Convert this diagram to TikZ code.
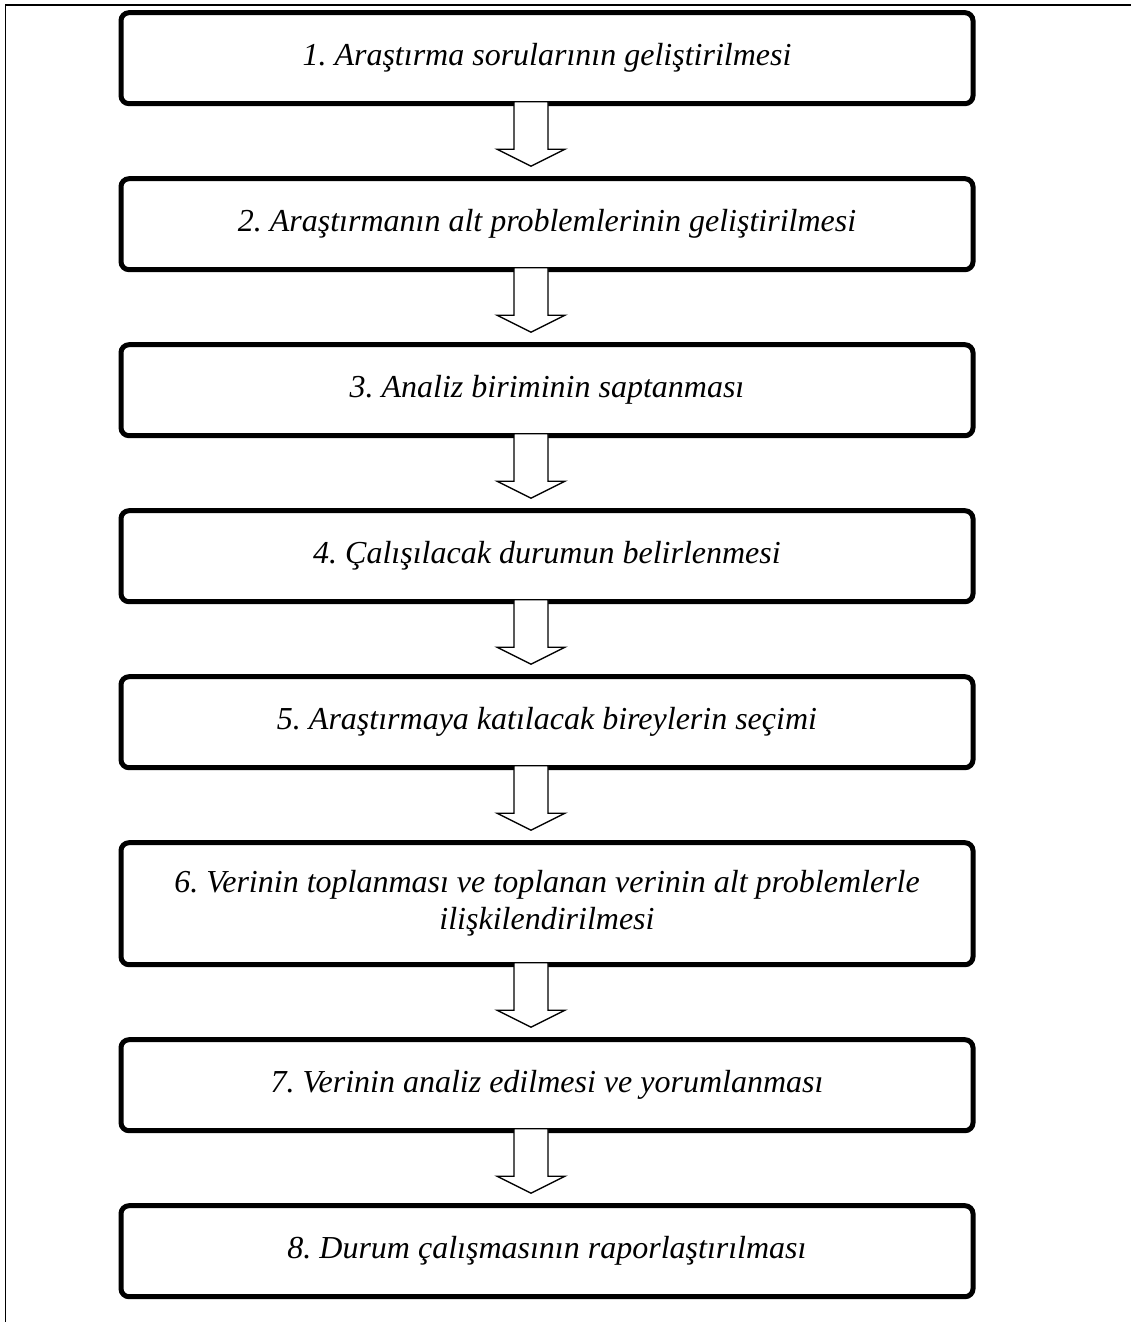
\documentclass[tikz,border=0pt]{standalone}
\usepackage{fontspec}
\setmainfont{Liberation Serif}
\usepackage{tikz}
\usetikzlibrary{positioning, calc}
\frenchspacing

\begin{document}
\begin{tikzpicture}[
    x=1pt, y=1pt,
    node distance=37.5pt,
    every node/.style={font=\fontsize{16}{18.5}\selectfont\itshape},
    stage/.style={rectangle, draw, line width=2.5pt, rounded corners=4pt, outer sep=0pt,
        minimum width=426pt, minimum height=45.5pt, align=center},
    blockarrow/.style={draw, fill=white, line width=0.65pt,
        to path={let \p1=(\tikztostart.south), \p2=(\tikztotarget.north) in
            (\x1-16.5pt,\y1+1pt) -- (\x1-16.5pt,\y2+14.75pt) -- (\x1-25pt,\y2+14.75pt)
            -- (\x1-8pt,\y2+6.25pt) -- (\x1+9pt,\y2+14.75pt) -- (\x1+0.5pt,\y2+14.75pt)
            -- (\x1+0.5pt,\y1+1pt) -- cycle}}
]
\useasboundingbox (0,0) rectangle (565.5,-661);

% Frame
\draw[line width=0.9pt] (2.7,-661) -- (2.7,-2.7) -- (565.5,-2.7);

% Stages
\node[stage] (sorular) at (273.5,-29.1) {1. Araştırma sorularının geliştirilmesi};
\node[stage, below=of sorular] (altprob) {2. Araştırmanın alt problemlerinin geliştirilmesi};
\node[stage, below=of altprob] (birim) {3. Analiz biriminin saptanması};
\node[stage, below=of birim] (durum) {4. Çalışılacak durumun belirlenmesi};
\node[stage, below=of durum] (birey) {5. Araştırmaya katılacak bireylerin seçimi};
\node[stage, below=of birey, minimum height=61pt] (veri) {6. Verinin toplanması ve toplanan verinin alt problemlerle\\ilişkilendirilmesi};
\node[stage, below=of veri] (analiz) {7. Verinin analiz edilmesi ve yorumlanması};
\node[stage, below=of analiz] (rapor) {8. Durum çalışmasının raporlaştırılması};

% Arrows
\draw[blockarrow] (sorular) to (altprob);
\draw[blockarrow] (altprob) to (birim);
\draw[blockarrow] (birim) to (durum);
\draw[blockarrow] (durum) to (birey);
\draw[blockarrow] (birey) to (veri);
\draw[blockarrow] (veri) to (analiz);
\draw[blockarrow] (analiz) to (rapor);

\end{tikzpicture}
\end{document}
